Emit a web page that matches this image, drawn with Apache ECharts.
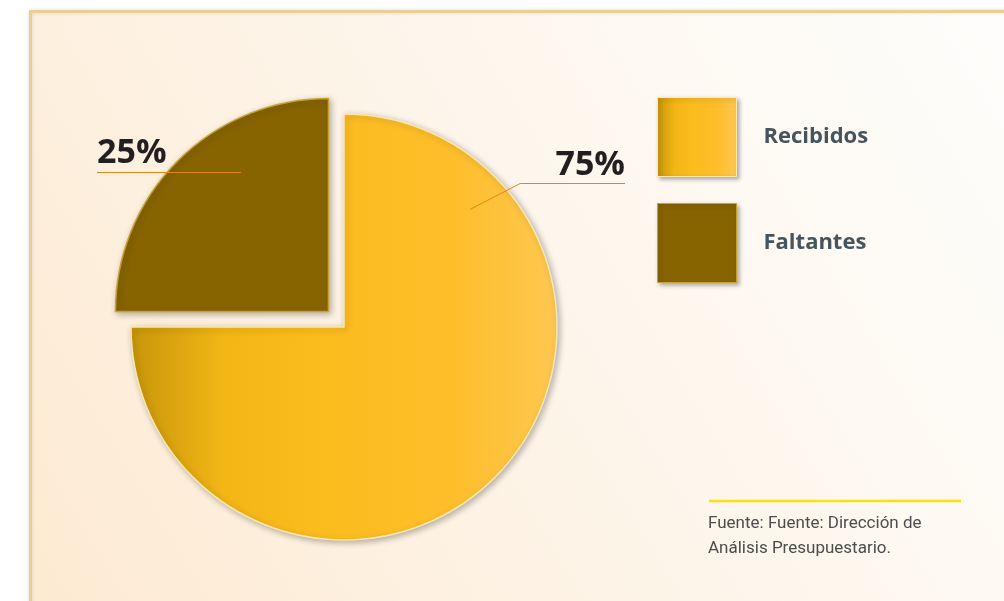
<!DOCTYPE html>
<html>
<head>
<meta charset="utf-8">
<script src="https://cdn.jsdelivr.net/npm/echarts@6/dist/echarts.min.js"></script>
<style>
  html, body { margin: 0; padding: 0; background: #fff; }
  #chart { width: 1004px; height: 601px; }
</style>
</head>
<body>
<div id="chart"></div>
<script>
// datos
const categories = ['Recibidos', 'Faltantes'];
const values = [75, 25];
const colors = ['#fbbc1e', '#876400'];

// geometria del pastel
const CX = 344, CY = 327, R = 213;
const EXPLODE = 22; // desplazamiento del sector "Faltantes"

const total = values.reduce((a, b) => a + b, 0);

const chart = echarts.init(document.getElementById('chart'));

// posicion de cada etiqueta con su linea guia
function layoutLabel(i) {
  if (i === 0) {
    const a = 43 * Math.PI / 180;
    const sx = CX + 0.81 * R * Math.cos(a), sy = CY - 0.81 * R * Math.sin(a);
    const ey = CY - 144 + 0.5;
    return {
      x: 625, y: ey - 1, align: 'right', verticalAlign: 'bottom',
      labelLinePoints: [[sx, sy], [sx + 50, ey], [625, ey]]
    };
  }
  const ey = CY - 155 + 0.5;
  return {
    x: 97, y: ey - 2, align: 'left', verticalAlign: 'bottom',
    labelLinePoints: [[241, ey], [170, ey], [97, ey]]
  };
}

const fills = [
  new echarts.graphic.LinearGradient(0, 0, 1, 0, [
    { offset: 0, color: '#c8960a' },
    { offset: 0.22, color: '#f2b615' },
    { offset: 0.45, color: colors[0] },
    { offset: 0.75, color: '#fdbe2a' },
    { offset: 1, color: '#fec751' }
  ]),
  colors[1]
];
const borders = ['#fbe7b0', '#c9a133'];

// angulos de cada sector (un pastel por sector para separar "Faltantes")
let angle = 90;
const slices = categories.map((name, i) => {
  const start = angle;
  const end = start - 360 * values[i] / total;
  angle = end;
  const off = i === 1 ? EXPLODE / Math.SQRT2 : 0;
  return { name: name, start: start, end: end, center: [CX - off, CY - off] };
});

const pieSeries = slices.map((s, i) => ({
  type: 'pie',
  z: 2,
  center: s.center,
  radius: R,
  startAngle: s.start,
  endAngle: s.end,
  clockwise: true,
  animation: false,
  label: { show: false },
  labelLine: { show: false },
  itemStyle: {
    color: fills[i],
    borderColor: borders[i],
    borderWidth: 1.5,
    shadowBlur: 6,
    shadowOffsetX: 2,
    shadowOffsetY: 2,
    shadowColor: 'rgba(0,0,0,0.28)'
  },
  data: [{ name: s.name, value: values[i] }]
}));

// misma geometria, encima, solo para etiquetas y lineas guia
const labelSeries = slices.map((s, i) => ({
  type: 'pie',
  z: 5,
  silent: true,
  center: s.center,
  radius: R,
  startAngle: s.start,
  endAngle: s.end,
  clockwise: true,
  animation: false,
  itemStyle: { color: 'transparent', borderWidth: 0 },
  label: {
    show: true,
    formatter: () => Math.round(values[i] / total * 100) + '%',
    fontFamily: 'Open Sans',
    fontWeight: 'bold',
    fontSize: 34,
    color: '#231f20'
  },
  labelLine: {
    show: true,
    showAbove: true,
    lineStyle: { color: '#e0861a', width: 1 }
  },
  labelLayout: () => layoutLabel(i),
  data: [{ name: s.name, value: values[i] }]
}));

const option = {
  backgroundColor: '#ffffff',
  textStyle: { fontFamily: 'Open Sans' },
  graphic: [
    {
      type: 'rect',
      z: -10,
      shape: { x: 30.5, y: 11.5, width: 1000, height: 600 },
      style: {
        fill: new echarts.graphic.LinearGradient(0, 1, 1, 0, [
          { offset: 0, color: '#fdead2' },
          { offset: 0.5, color: '#fdf5ea' },
          { offset: 1, color: '#fefefd' }
        ]),
        stroke: '#e8cf94',
        lineWidth: 3,
        shadowBlur: 4,
        shadowColor: 'rgba(0,0,0,0.12)'
      }
    },
    {
      type: 'line',
      shape: { x1: 709, y1: 501, x2: 961, y2: 501 },
      style: { stroke: '#fde014', lineWidth: 2.5 }
    }
  ],
  title: {
    text: 'Fuente: Fuente: Dirección de\nAnálisis Presupuestario.',
    left: 708,
    top: 511,
    padding: 0,
    textStyle: {
      fontFamily: 'Roboto',
      fontSize: 17,
      fontWeight: 'normal',
      color: '#4d4d4d',
      lineHeight: 25
    }
  },
  legend: {
    orient: 'vertical',
    left: 657,
    top: 97,
    padding: 0,
    itemWidth: 79,
    itemHeight: 79,
    itemGap: 26,
    icon: 'rect',
    selectedMode: false,
    data: categories,
    itemStyle: {
      borderWidth: 1,
      shadowBlur: 4,
      shadowOffsetX: 2,
      shadowOffsetY: 2,
      shadowColor: 'rgba(0,0,0,0.3)'
    },
    textStyle: {
      fontFamily: 'Open Sans',
      fontWeight: 'bold',
      fontSize: 22,
      color: '#46545e',
      padding: [0, 0, 0, 22]
    }
  },
  series: pieSeries.concat(labelSeries)
};

chart.setOption(option);
</script>
</body>
</html>
